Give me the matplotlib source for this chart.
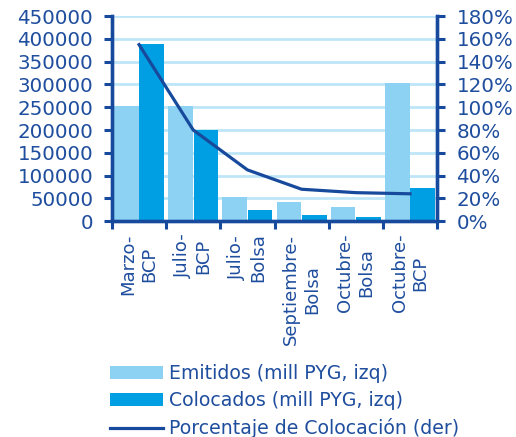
import matplotlib.pyplot as plt
from matplotlib.ticker import FuncFormatter
import numpy as np

# Colocación de bonos por emisión
categorias = ["Marzo-\nBCP", "Julio-\nBCP", "Julio-\nBolsa", "Septiembre-\nBolsa", "Octubre-\nBolsa", "Octubre-\nBCP"]
emitidos = [253000, 253000, 52000, 43000, 31500, 304000]
colocados = [388000, 201000, 24000, 14500, 9500, 73000]
porcentaje = [1.55, 0.80, 0.45, 0.28, 0.25, 0.24]

C_EMI = "#8DD2F2"
C_COL = "#009FE3"
C_LINE = "#174A9C"
C_TEXT = "#1F4E9E"
C_GRID = "#BFE6F8"

plt.rcParams['font.family'] = ['DejaVu Sans']

fig = plt.figure(figsize=(5.16, 4.37), dpi=100)
ax = fig.add_axes([0.217, 0.494, 0.630, 0.469])
ax2 = ax.twinx()

x = np.arange(len(categorias))
w = 0.455
b1 = ax.bar(x - 0.235, emitidos, w, color=C_EMI, label="Emitidos (mill PYG, izq)", zorder=2)
b2 = ax.bar(x + 0.235, colocados, w, color=C_COL, label="Colocados (mill PYG, izq)", zorder=2)
l1, = ax2.plot(x, porcentaje, color=C_LINE, lw=2.3, label="Porcentaje de Colocación (der)", zorder=3)

ax.set_xlim(-0.5, len(categorias) - 0.5)
ax.set_ylim(0, 450000)
ax.set_yticks(np.arange(0, 450001, 50000))
ax.yaxis.set_major_formatter(FuncFormatter(lambda v, p: "%d" % v))
ax2.set_ylim(0, 1.8)
ax2.set_yticks(np.arange(0, 1.81, 0.2))
ax2.yaxis.set_major_formatter(FuncFormatter(lambda v, p: "%d%%" % round(v * 100)))

ax.set_axisbelow(True)
ax.yaxis.grid(True, color=C_GRID, lw=2)
# ticks on group edges, labels on group centres
ax.set_xticks(np.arange(-0.5, len(categorias), 1.0))
ax.set_xticklabels([])
ax.set_xticks(x, minor=True)
ax.set_xticklabels(categorias, minor=True, rotation=90, ha="center", va="top",
                   multialignment="center", fontsize=13, color=C_TEXT)
ax.tick_params(axis="x", which="minor", length=0, pad=9)
ax.tick_params(axis="x", which="major", length=6, width=2.2, color=C_LINE)

for a in (ax, ax2):
    a.spines["top"].set_visible(False)
    for s in ("left", "right", "bottom"):
        a.spines[s].set_color(C_LINE)
        a.spines[s].set_linewidth(2.4)
ax.tick_params(axis="y", length=6, width=2.2, color=C_LINE, labelcolor=C_TEXT, labelsize=14.3, pad=7.5)
ax2.tick_params(axis="y", length=6, width=2.2, color=C_LINE, labelcolor=C_TEXT, labelsize=14.3, pad=8)

leg = fig.legend(handles=[b1, b2, l1], loc="upper left", bbox_to_anchor=(0.214, 0.166),
                 frameon=False, fontsize=13.6, handlelength=2.8, handletextpad=0.28,
                 labelspacing=0.42, borderaxespad=0, borderpad=0)
for t in leg.get_texts():
    t.set_color(C_TEXT)

fig.savefig("out.png", dpi=100)
